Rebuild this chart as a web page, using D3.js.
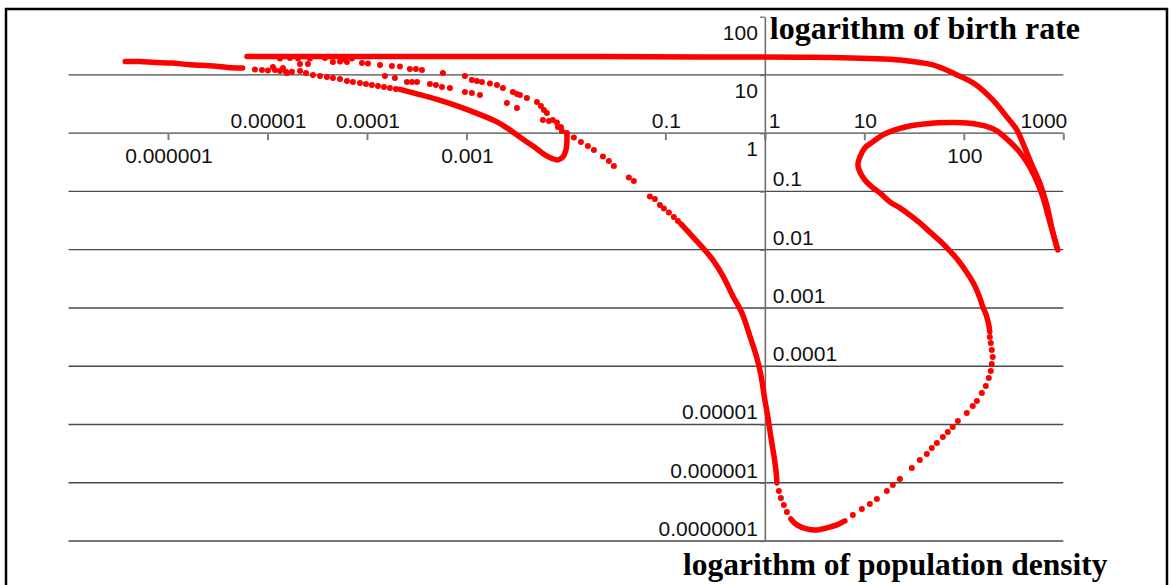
<!DOCTYPE html>
<html>
<head>
<meta charset="utf-8">
<script src="https://cdn.jsdelivr.net/npm/d3@7"></script>
<style>
  html, body { margin: 0; padding: 0; background: #fff; }
  svg { display: block; }
</style>
</head>
<body>
<svg id="chart" width="1171" height="585"></svg>
<script>
// ---- axes: decades and their labels ----
const densityDecades = [1e-7, 1e-6, 1e-5, 1e-4, 1e-3, 1e-2, 1e-1, 1, 10, 100, 1000];
const birthDecades   = [1e-7, 1e-6, 1e-5, 1e-4, 1e-3, 1e-2, 1e-1, 1, 10, 100];

const densityTickLabels = [
  { v: 1e-6, text: "0.000001" }, { v: 1e-5, text: "0.00001" }, { v: 1e-4, text: "0.0001" },
  { v: 1e-3, text: "0.001" },    { v: 1e-1, text: "0.1" },     { v: 1,    text: "1" },
  { v: 10,   text: "10" },       { v: 100,  text: "100" },     { v: 1000, text: "1000" }
];
const densityLabelsBelow = [1e-6, 1e-3, 100];

const birthTickLabels = [
  { v: 100,  text: "100" },      { v: 10,   text: "10" },      { v: 1,    text: "1" },
  { v: 1e-1, text: "0.1" },      { v: 1e-2, text: "0.01" },    { v: 1e-3, text: "0.001" },
  { v: 1e-4, text: "0.0001" },   { v: 1e-5, text: "0.00001" }, { v: 1e-6, text: "0.000001" },
  { v: 1e-7, text: "0.0000001" }
];
const birthLabelsRight = [1e-1, 1e-2, 1e-3, 1e-4];

const xTitle = "logarithm of population density";
const yTitle = "logarithm of birth rate";

// ---- trajectory samples: [log10 density, log10 birth rate] ----
// continuous stretches (samples close enough to merge into a line)
const tailRun = [[-6.43,1.23],[-6.28,1.23],[-6.13,1.215],[-5.96,1.205],[-5.78,1.175],[-5.58,1.16],[-5.40,1.13],[-5.25,1.12]];

const lowerBranchRun = [[-3.668,0.752],[-3.497,0.675],[-3.296,0.580],[-3.095,0.469],[-2.894,0.340],[-2.693,0.194],
  [-2.593,0.091],[-2.492,-0.029],[-2.392,-0.149],[-2.291,-0.270],[-2.211,-0.373],[-2.141,-0.433],[-2.080,-0.458],
  [-2.030,-0.407],[-2.000,-0.287],[-1.990,-0.149],[-1.990,-0.029]];

const descentRun = [[-0.844,-1.557],[-0.724,-1.780],[-0.623,-1.969],[-0.523,-2.175],[-0.422,-2.450],[-0.322,-2.793],
  [-0.231,-3.085],[-0.151,-3.480],[-0.080,-3.858],[-0.040,-4.150],[0.000,-4.579],[0.030,-4.870],[0.060,-5.213],
  [0.090,-5.522],[0.111,-5.780],[0.121,-6.003]];

const bottomRun = [[0.261,-6.621],[0.322,-6.724],[0.422,-6.793],[0.523,-6.811],[0.623,-6.776],[0.724,-6.724],[0.804,-6.656]];

const loopRun = [[2.261,-3.411],[2.251,-3.291],[2.221,-3.102],[2.191,-2.982],[2.161,-2.827],[2.101,-2.587],[2.020,-2.364],
  [1.940,-2.175],[1.859,-2.020],[1.759,-1.848],[1.658,-1.694],[1.558,-1.540],[1.457,-1.403],[1.357,-1.282],
  [1.256,-1.179],[1.156,-1.025],[1.075,-0.922],[1.005,-0.802],[0.955,-0.664],[0.935,-0.544],[0.955,-0.407],
  [1.005,-0.252],[1.085,-0.149],[1.186,-0.029],[1.307,0.057],[1.457,0.125],[1.658,0.168],[1.859,0.182],
  [2.030,0.177],[2.211,0.125],[2.332,0.040],[2.442,-0.115],[2.543,-0.287],[2.633,-0.493],[2.714,-0.750],
  [2.794,-1.094],[2.864,-1.523],[2.935,-1.952]];

const outerRun = [[2.945,-2.003],[2.894,-1.694],[2.834,-1.231],[2.764,-0.853],[2.693,-0.579],[2.613,-0.252],
  [2.533,0.057],[2.432,0.280],[2.291,0.572],[2.111,0.846],[1.910,1.018],[1.688,1.172],[1.357,1.258],[1.055,1.284],
  [0.683,1.301],[0.352,1.305],[-0.653,1.310],[-1.658,1.315],[-2.663,1.318],[-3.668,1.318],[-4.673,1.318],[-5.206,1.315]];

// sparse stretches (individual samples)
const lowerBranchDots = [[-5.126,1.095],[-5.055,1.087],[-4.995,1.078],[-4.925,1.087],[-4.874,1.070],[-4.814,1.053],
  [-4.754,1.053],[-4.673,1.070],[-4.613,1.035],[-4.543,1.001],[-4.472,0.984],[-4.402,0.966],[-4.342,0.949],
  [-4.271,0.932],[-4.201,0.898],[-4.141,0.880],[-4.070,0.863],[-4.010,0.846],[-3.950,0.829],[-3.889,0.812],
  [-3.829,0.795],[-3.769,0.778],[-3.709,0.760]];

const descentDots = [[-1.990,0.005],[-1.920,-0.072],[-1.849,-0.149],[-1.779,-0.218],[-1.719,-0.287],[-1.628,-0.398],
  [-1.568,-0.476],[-1.518,-0.562],[-1.367,-0.759],[-1.317,-0.819],[-1.156,-1.085],[-1.106,-1.128],[-1.055,-1.231],
  [-1.015,-1.291],[-0.965,-1.360],[-0.915,-1.437],[-0.874,-1.505]];

const bottomDots = [[0.141,-6.140],[0.161,-6.260],[0.191,-6.381],[0.221,-6.501]];

const risingDots = [[0.884,-6.553],[0.975,-6.450],[1.055,-6.364],[1.126,-6.278],[1.226,-6.141],[1.286,-6.038],
  [1.357,-5.935],[1.477,-5.746],[1.558,-5.608],[1.628,-5.505],[1.678,-5.402],[1.729,-5.317],[1.789,-5.214],
  [1.839,-5.128],[1.889,-5.042],[1.940,-4.939],[2.030,-4.802],[2.090,-4.682],[2.131,-4.596],[2.181,-4.459],
  [2.221,-4.339],[2.251,-4.201],[2.271,-4.081],[2.281,-3.961],[2.291,-3.841],[2.281,-3.721],[2.271,-3.600],
  [2.261,-3.497]];

const upperBranchDots = [[-4.673,1.190],[-4.593,1.190],[-4.342,1.224],[-4.271,1.233],[-4.201,1.224],[-4.050,1.207],
  [-3.990,1.198],[-3.869,1.172],[-3.749,1.155],[-3.668,1.147],[-3.568,1.104],[-3.508,1.104],[-3.447,1.087],
  [-3.236,1.035],[-3.015,0.984],[-2.945,0.915],[-2.894,0.898],[-2.844,0.880],[-2.764,0.855],[-2.693,0.829],
  [-2.633,0.778],[-2.533,0.709],[-2.492,0.675],[-2.462,0.658],[-2.392,0.606],[-2.291,0.537],[-2.251,0.469],
  [-2.221,0.400],[-2.191,0.348],[-2.131,0.228],[-2.080,0.108],[-2.040,0.039]];

const middleBranchDots = [[-3.819,0.984],[-3.719,0.949],[-3.598,0.880],[-3.548,0.880],[-3.497,0.880],[-3.367,0.846],
  [-3.307,0.829],[-3.246,0.795],[-3.166,0.778],[-3.015,0.709],[-2.945,0.692],[-2.864,0.658],[-2.593,0.520],
  [-2.492,0.434],[-2.231,0.228],[-2.171,0.211],[-2.090,0.185],[-2.050,0.108]];

const topLeftScatter = [[-4.874,1.284],[-4.774,1.293],[-4.693,1.284],[-4.573,1.284],[-4.422,1.293],[-4.221,1.267],
  [-4.151,1.284],[-4.945,1.138],[-4.844,1.121],[-4.804,1.035]];

// ---- drawing ----
const svg = d3.select("#chart");
const W = 1171, H = 585;
const markColor = "#ff0000";
const tickFont = "'Liberation Sans', Arial, sans-serif";
const titleFont = "'Liberation Serif', 'Times New Roman', serif";

const x = d3.scaleLog().domain([1e-7, 1000]).range([68.5, 1063.3]);
const y = d3.scaleLog().domain([1e-7, 100]).range([541, 16.7]);
const px = d => x(10 ** d[0]);
const py = d => y(10 ** d[1]);

// outer frame
svg.append("rect")
  .attr("x", 6).attr("y", 9).attr("width", W - 10).attr("height", H + 20)
  .attr("fill", "none").attr("stroke", "#000").attr("stroke-width", 2.5);

// horizontal gridlines at every decade of birth rate below the top one
svg.append("g")
  .selectAll("line")
  .data(birthDecades.filter(v => v < 100))
  .join("line")
  .attr("x1", x(1e-7)).attr("x2", x(1000))
  .attr("y1", d => y(d)).attr("y2", d => y(d))
  .attr("stroke", "#4a4a4a").attr("stroke-width", 1.3);

// density axis crossing at birth rate = 1
const xAxis = svg.append("g")
  .attr("transform", `translate(0,${y(1)})`)
  .call(d3.axisBottom(x).tickValues(densityDecades.filter(v => v > 1e-7)).tickSize(7).tickSizeOuter(0).tickFormat(""));
xAxis.select(".domain").remove();
xAxis.selectAll(".tick line").attr("stroke", "#808080").attr("stroke-width", 2);

// birth-rate axis crossing at density = 1
const yAxis = svg.append("g")
  .attr("transform", `translate(${x(1)},0)`)
  .call(d3.axisLeft(y).tickValues(birthDecades).tickSize(5).tickSizeOuter(0).tickFormat(""));
yAxis.select(".domain").attr("stroke", "#6e6e6e").attr("stroke-width", 1.6);
yAxis.selectAll(".tick line").attr("stroke", "#6e6e6e").attr("stroke-width", 1.3);

// density tick labels, staggered above and below the axis
svg.append("g")
  .selectAll("text")
  .data(densityTickLabels)
  .join("text")
  .attr("x", d => d.v === 1 || d.v === 1000 ? x(d.v) + 4 : x(d.v) + 1)
  .attr("y", d => densityLabelsBelow.includes(d.v) ? y(1) + 30 : y(1) - 5.5)
  .attr("text-anchor", d => d.v === 1 ? "start" : (d.v === 1000 ? "end" : "middle"))
  .attr("font-family", tickFont).attr("font-size", 21).attr("fill", "#111")
  .text(d => d.text);

// birth-rate tick labels
svg.append("g")
  .selectAll("text")
  .data(birthTickLabels)
  .join("text")
  .attr("x", d => birthLabelsRight.includes(d.v) ? x(1) + 8 : x(1) - 7)
  .attr("y", d => d.v >= 1 ? y(d.v) + 23 : y(d.v) - 5)
  .attr("text-anchor", d => birthLabelsRight.includes(d.v) ? "start" : "end")
  .attr("font-family", tickFont).attr("font-size", 21).attr("fill", "#111")
  .text(d => d.text);

// axis titles
svg.append("text")
  .attr("x", x(1) + 5).attr("y", 38.5)
  .attr("font-family", titleFont).attr("font-weight", "bold").attr("font-size", 32).attr("fill", "#000")
  .text(yTitle);
svg.append("text")
  .attr("x", 683).attr("y", 575)
  .attr("font-family", titleFont).attr("font-weight", "bold").attr("font-size", 31.5).attr("fill", "#000")
  .text(xTitle);

// trajectory: continuous stretches
const line = d3.line().x(px).y(py).curve(d3.curveCatmullRom.alpha(0.5));
const runs = [tailRun, lowerBranchRun, descentRun, bottomRun, loopRun, outerRun];
svg.append("g")
  .selectAll("path")
  .data(runs)
  .join("path")
  .attr("d", line)
  .attr("fill", "none").attr("stroke", markColor)
  .attr("stroke-width", 5.5).attr("stroke-linecap", "round").attr("stroke-linejoin", "round");

// trajectory: individual samples
const dots = [].concat(lowerBranchDots, descentDots, bottomDots, risingDots,
                       upperBranchDots, middleBranchDots, topLeftScatter);
svg.append("g")
  .selectAll("circle")
  .data(dots)
  .join("circle")
  .attr("cx", px).attr("cy", py).attr("r", 3)
  .attr("fill", markColor);
</script>
</body>
</html>
